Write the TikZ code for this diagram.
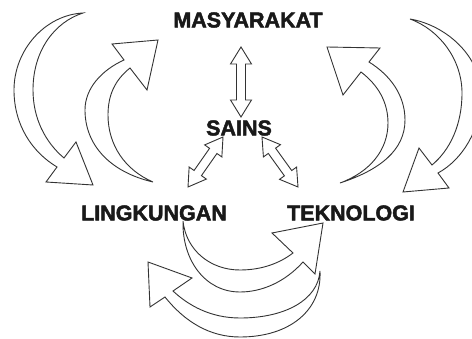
\documentclass[tikz,border=0pt]{standalone}
\usepackage{fontspec}
\setmainfont{Liberation Sans}
\newfontfamily\lblfont[FakeBold=2.2]{Liberation Sans Bold}
\usetikzlibrary{calc}
\newcommand{\blockdbl}[2]{%
  \draw[blockshape]
    (#1) -- ($(#1)!17pt!(#2)!10.5pt!90:(#2)$) -- ($(#1)!17pt!(#2)!4.5pt!90:(#2)$)
    -- ($(#2)!17pt!(#1)!4.5pt!-90:(#1)$) -- ($(#2)!17pt!(#1)!10.5pt!-90:(#1)$)
    -- (#2) -- ($(#2)!17pt!(#1)!10.5pt!90:(#1)$) -- ($(#2)!17pt!(#1)!4.5pt!90:(#1)$)
    -- ($(#1)!17pt!(#2)!4.5pt!-90:(#2)$) -- ($(#1)!17pt!(#2)!10.5pt!-90:(#2)$) -- cycle;}
\begin{document}
\begin{tikzpicture}[x=1pt,y=-1pt,
  blockshape/.style={draw=black!80,fill=white,line width=0.9pt,line join=miter},
  lbl/.style={inner sep=0pt,font=\lblfont\fontsize{21.5}{26}\selectfont,text=black!90}]
\useasboundingbox (0,0) rectangle (472,339);
\clip (0,0) rectangle (472,339);
\fill[white] (0,0) rectangle (472,339);
% labels
\node[lbl] (mas) at (248,20) {MASYARAKAT};
\node[lbl] (sai) at (239,128) {SAINS};
\node[lbl] (lin) at (154,213) {LINGKUNGAN};
\node[lbl] (tek) at (351,213) {TEKNOLOGI};
% end points of the double arrows
\coordinate (v1) at (241,47);
\coordinate (v2) at (241,117);
\coordinate (l1) at (223,137);
\coordinate (l2) at (188,187);
\coordinate (r1) at (262,137);
\coordinate (r2) at (298,187);
\blockdbl{v1}{v2}
\blockdbl{l1}{l2}
\blockdbl{r1}{r2}
% left outer curved arrow (down)
\draw[blockshape] (83,13) .. controls (45,15) and (14,50) .. (14,90)
  .. controls (14,125) and (32,152) .. (57,167) -- (46,182) -- (93,185) -- (76,142) -- (64,158)
  .. controls (45,142) and (33,118) .. (33,90) .. controls (33,50) and (55,22) .. (83,13) -- cycle;
% left inner curved arrow (up)
\draw[blockshape] (153,182) .. controls (110,172) and (85,145) .. (85,110)
  .. controls (85,88) and (102,70) .. (124,60) -- (112,44) -- (158,40) -- (147,90) -- (130,68)
  .. controls (115,80) and (108,95) .. (108,115) .. controls (108,145) and (125,170) .. (153,182) -- cycle;
% right inner curved arrow (up)
\draw[blockshape] (340,183) .. controls (380,170) and (405,150) .. (405,120)
  .. controls (405,95) and (390,75) .. (369,62) -- (380,48) -- (327,47) -- (343,95) -- (361,72)
  .. controls (378,85) and (388,102) .. (388,123) .. controls (388,150) and (370,172) .. (340,183) -- cycle;
% right outer curved arrow (down)
\draw[blockshape] (410,19) .. controls (445,25) and (481,55) .. (481,95)
  .. controls (481,130) and (462,160) .. (438,173) -- (449,188) -- (403,192) -- (419,148) -- (432,165)
  .. controls (450,150) and (462,125) .. (462,93) .. controls (462,60) and (440,30) .. (410,19) -- cycle;
% bottom lower curved arrow (left)
\draw[blockshape] (320,271) .. controls (318,300) and (285,318) .. (240,318)
  .. controls (210,318) and (188,305) .. (173,291) -- (192,278) -- (148,262) -- (150,307) -- (165,297)
  .. controls (185,322) and (210,337) .. (240,337) .. controls (290,337) and (322,310) .. (320,271) -- cycle;
% bottom upper curved arrow (right)
\draw[blockshape] (183,221) .. controls (186,250) and (210,270) .. (240,270)
  .. controls (262,270) and (280,263) .. (293,253) -- (272,233) -- (323,223) -- (315,274) -- (303,262)
  .. controls (285,282) and (262,292) .. (240,292) .. controls (205,292) and (182,260) .. (183,221) -- cycle;
\end{tikzpicture}
\end{document}
